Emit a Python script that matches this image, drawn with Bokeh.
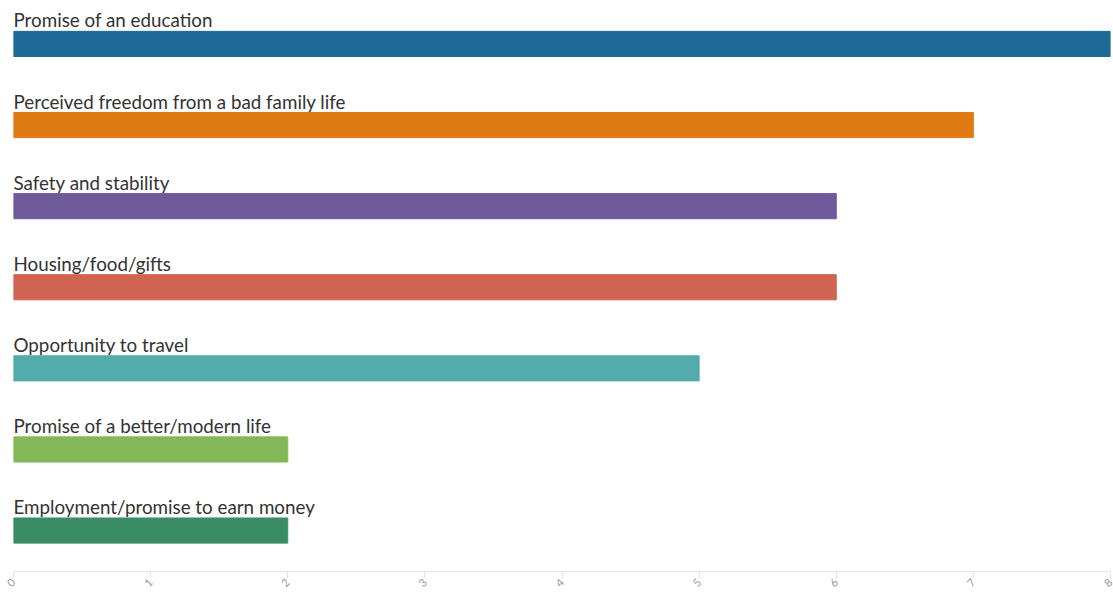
from bokeh.plotting import figure
from bokeh.models import Range1d, ColumnDataSource, FixedTicker
from bokeh.core.properties import value
from bokeh.embed import file_html
from bokeh.resources import INLINE
import math

categories = [
    "Promise of an education",
    "Perceived freedom from a bad family life",
    "Safety and stability",
    "Housing/food/gifts",
    "Opportunity to travel",
    "Promise of a better/modern life",
    "Employment/promise to earn money",
]
counts = [8, 7, 6, 6, 5, 2, 2]
colors = ["#1d6a96", "#e07b14", "#6f5a9c", "#d06351", "#53abac", "#84b758", "#3a8c66"]
x_ticks = [0, 1, 2, 3, 4, 5, 6, 7, 8]

n = len(categories)
src = ColumnDataSource(dict(
    y=list(range(n)),
    v=counts,
    c=colors,
    label=categories,
    zero=[0] * n,
))

p = figure(width=1113, height=593, output_backend="svg", toolbar_location=None,
           x_range=Range1d(0, 8), y_range=Range1d(n - 1 + 0.505, -0.437),
           min_border_left=13, min_border_right=3, min_border_top=8, min_border_bottom=0)

p.hbar(y="y", left="zero", right="v", height=0.31, fill_color="c", line_color="c",
       source=src)
p.text(x="zero", y="y", text="label", source=src, y_offset=-24,
       text_baseline="alphabetic", text_align="left",
       text_font=value("Lato"), text_font_size="18.8px", text_color="#333333")

p.yaxis.visible = False
p.xgrid.visible = False
p.ygrid.visible = False
p.outline_line_color = None
p.xaxis.ticker = FixedTicker(ticks=x_ticks)
p.xaxis.axis_line_color = "#e6e6e6"
p.xaxis.major_tick_line_color = "#e6e6e6"
p.xaxis.major_tick_out = 7
p.xaxis.major_tick_in = 0
p.xaxis.minor_tick_line_color = None
p.xaxis.major_label_orientation = math.pi / 4
p.xaxis.major_label_text_color = "#999999"
p.xaxis.major_label_text_font = "Lato"
p.xaxis.major_label_text_font_size = "11px"
p.xaxis.major_label_standoff = 2

open("out.html", "w").write(file_html(p, INLINE))
